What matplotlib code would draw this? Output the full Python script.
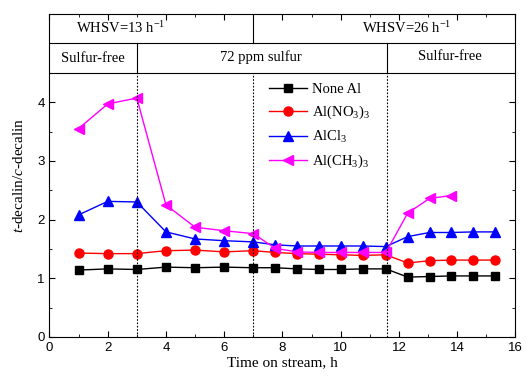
import numpy as np
import matplotlib.pyplot as plt
from matplotlib.ticker import MultipleLocator

plt.rcParams['mathtext.fontset'] = 'custom'
plt.rcParams['mathtext.rm'] = 'Liberation Serif'
plt.rcParams['mathtext.it'] = 'Liberation Serif:italic'

# time on stream (h)
t = [1, 2, 3, 4, 5, 6, 7, 7.75, 8.5, 9.25, 10, 10.75, 11.55,
     12.3, 13.05, 13.8, 14.55, 15.3]
t_ch3 = t[:16]

none_al = [1.14, 1.16, 1.15, 1.19, 1.18, 1.19, 1.18, 1.18, 1.16, 1.15, 1.15, 1.16, 1.16,
           1.02, 1.03, 1.04, 1.04, 1.04]
al_no3 = [1.43, 1.42, 1.42, 1.47, 1.48, 1.45, 1.47, 1.44, 1.42, 1.41, 1.40, 1.39, 1.40,
          1.26, 1.30, 1.31, 1.31, 1.31]
al_cl3 = [2.08, 2.31, 2.30, 1.79, 1.67, 1.64, 1.62, 1.57, 1.55, 1.55, 1.55, 1.55, 1.54,
          1.71, 1.78, 1.78, 1.79, 1.79]
al_ch3 = [3.55, 3.97, 4.07, 2.25, 1.87, 1.81, 1.76, 1.51, 1.45, 1.44, 1.44, 1.44, 1.44,
          2.11, 2.36, 2.41]

serif = 'Liberation Serif'
sans = 'Liberation Sans'

fig = plt.figure(figsize=(5.26, 3.81), dpi=100)
ax = fig.add_axes([0.094, 0.1155, 0.886, 0.8475])

ax.plot(t, none_al, '-s', color='black', ms=5.5, lw=1, label='None Al')
ax.plot(t, al_no3, '-o', color='red', ms=6.5, lw=1, label='Al(NO$_3$)$_3$')
ax.plot(t, al_cl3, '-^', color='blue', ms=7, lw=1, label='AlCl$_3$')
ax.plot(t_ch3, al_ch3, '-<', color='magenta', ms=7, lw=1, label='Al(CH$_3$)$_3$')

ax.set_xlim(0, 16)
ax.set_ylim(0, 5.5)

# header rows
ax.axhline(5.0, color='black', lw=0.8)
ax.axhline(4.5, color='black', lw=0.8)
ax.plot([7, 7], [5.0, 5.5], color='black', lw=0.8)
for xv in [3, 11.6]:
    ax.plot([xv, xv], [4.5, 5.0], color='black', lw=0.8)
for xv in [3, 7, 11.6]:
    ax.plot([xv, xv], [0, 4.5], color='black', lw=0.8, ls=(0, (1.5, 1.5)))

ax.text(0.9, 5.27, 'WHSV=13 h$^{-1}$', family=serif, fontsize=10.5, ha='left', va='center')
ax.text(12.25, 5.27, 'WHSV=26 h$^{-1}$', family=serif, fontsize=10.5, ha='center', va='center')
ax.text(1.5, 4.74, 'Sulfur-free', family=serif, fontsize=10.5, ha='center', va='center')
ax.text(7.25, 4.77, '72 ppm sulfur', family=serif, fontsize=10.5, ha='center', va='center')
ax.text(13.75, 4.78, 'Sulfur-free', family=serif, fontsize=10.5, ha='center', va='center')

ax.set_xticks(np.arange(0, 17, 2))
ax.xaxis.set_minor_locator(MultipleLocator(1))
ax.set_yticks([0, 1, 2, 3, 4])
ax.set_yticks(np.arange(0.5, 4.6, 1.0), minor=True)
ax.tick_params(which='both', direction='in', top=True, right=True, labelsize=9.5)
ax.tick_params(which='major', length=4)
ax.tick_params(which='minor', length=2.5)
for lab in ax.get_xticklabels() + ax.get_yticklabels():
    lab.set_family(sans)

ax.set_xlabel('Time on stream, h', family=serif, fontsize=11, labelpad=2)
ax.set_ylabel('$t$-decalin/$c$-decalin', family=serif, fontsize=11, labelpad=8)

ax.legend(loc='upper left', bbox_to_anchor=(0.45, 0.82), frameon=False,
          prop={'family': serif, 'size': 10.5}, handlelength=2.6,
          handletextpad=0.3, labelspacing=0.55, borderpad=0.2)

fig.savefig('out.png', dpi=100)
